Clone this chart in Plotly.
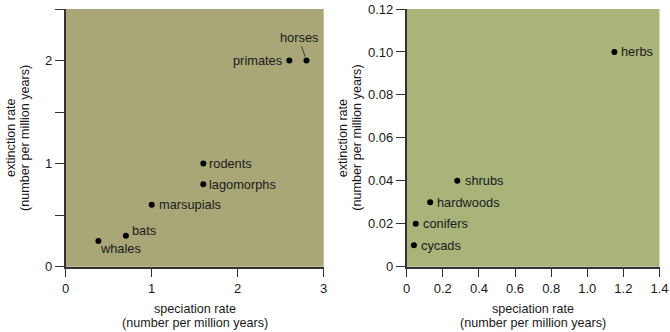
import plotly.graph_objects as go

# Mammal groups: speciation vs extinction rate (per million years)
animal_names = ["whales", "bats", "marsupials", "lagomorphs", "rodents", "primates", "horses"]
animal_spec = [0.38, 0.7, 1.0, 1.6, 1.6, 2.6, 2.8]
animal_ext = [0.25, 0.3, 0.6, 0.8, 1.0, 2.0, 2.0]

# Plant groups
plant_names = ["cycads", "conifers", "hardwoods", "shrubs", "herbs"]
plant_spec = [0.04, 0.05, 0.13, 0.28, 1.15]
plant_ext = [0.01, 0.02, 0.03, 0.04, 0.10]

# Tick definitions
left_xticks = [0, 1, 2, 3]
left_yticks = [0, 0.5, 1, 1.5, 2, 2.5]
left_ylabels = ["0", "", "1", "", "2", ""]
right_xticks = [0, 0.2, 0.4, 0.6, 0.8, 1.0, 1.2, 1.4]
right_xlabels = ["0", "0.2", "0.4", "0.6", "0.8", "1.0", "1.2", "1.4"]
right_yticks = [0, 0.02, 0.04, 0.06, 0.08, 0.10, 0.12]
right_ylabels = ["0", "0.02", "0.04", "0.06", "0.08", "0.10", "0.12"]

W, H = 670, 332
FONT = "Liberation Sans, Arial, Helvetica, sans-serif"
TXT = "#1a1a1a"
AXC = "#333333"

# label placement: (xanchor, xshift, yshift)
animal_label_pos = {
    "whales": ("left", 0, -8),
    "bats": ("left", 4, 5),
    "marsupials": ("left", 5, 0),
    "lagomorphs": ("left", 4, 0),
    "rodents": ("left", 4, 0),
    "primates": ("right", -5, 0),
}
plant_label_pos = {
    "cycads": ("left", 5, 0),
    "conifers": ("left", 5, 0),
    "hardwoods": ("left", 5, 0),
    "shrubs": ("left", 6, 0),
    "herbs": ("left", 5, 0),
}

fig = go.Figure()
fig.add_trace(go.Scatter(x=animal_spec, y=animal_ext, mode="markers",
                         marker=dict(color="black", size=6),
                         xaxis="x", yaxis="y", hoverinfo="skip"))
fig.add_trace(go.Scatter(x=plant_spec, y=plant_ext, mode="markers",
                         marker=dict(color="black", size=6),
                         xaxis="x2", yaxis="y2", hoverinfo="skip"))

label_font = dict(family=FONT, size=12.8, color=TXT)
annotations = []
for n, xv, yv in zip(animal_names, animal_spec, animal_ext):
    if n == "horses":
        annotations.append(dict(x=xv, y=yv, xref="x", yref="y", text=n,
                                showarrow=True, arrowhead=0, arrowwidth=0.8,
                                arrowcolor="#222", ax=-8, ay=-23, standoff=4,
                                font=label_font))
        continue
    xa, xs, ys = animal_label_pos[n]
    annotations.append(dict(x=xv, y=yv, xref="x", yref="y", text=n,
                            showarrow=False, xanchor=xa, yanchor="middle",
                            xshift=xs, yshift=ys, font=label_font))
for n, xv, yv in zip(plant_names, plant_spec, plant_ext):
    xa, xs, ys = plant_label_pos[n]
    annotations.append(dict(x=xv, y=yv, xref="x2", yref="y2", text=n,
                            showarrow=False, xanchor=xa, yanchor="middle",
                            xshift=xs, yshift=ys, font=label_font))

# axis titles (two lines each, set as separate annotations for tight line spacing)
def px(x):
    return x / W

def py(y):
    return 1 - y / H

LEFT_X0, LEFT_X1 = 65.7, 323.7
RIGHT_X0, RIGHT_X1 = 406.7, 659.5

title_font = dict(family=FONT, size=12.6, color=TXT)
for cx in ((LEFT_X0 + LEFT_X1) / 2, (RIGHT_X0 + RIGHT_X1) / 2):
    annotations.append(dict(x=px(cx), y=py(308.5), xref="paper", yref="paper",
                            text="speciation rate", showarrow=False,
                            xanchor="center", yanchor="middle", font=title_font))
    annotations.append(dict(x=px(cx), y=py(322.5), xref="paper", yref="paper",
                            text="(number per million years)", showarrow=False,
                            xanchor="center", yanchor="middle", font=title_font))
for x1, x2 in ((11, 25), (343.3, 356.7)):
    annotations.append(dict(x=px(x1), y=py(138), xref="paper", yref="paper",
                            text="extinction rate", showarrow=False, textangle=-90,
                            xanchor="center", yanchor="middle", font=title_font))
    annotations.append(dict(x=px(x2), y=py(138), xref="paper", yref="paper",
                            text="(number per million years)", showarrow=False,
                            textangle=-90, xanchor="center", yanchor="middle",
                            font=title_font))

shapes = [
    dict(type="rect", xref="x domain", yref="y domain", x0=0, x1=1, y0=0, y1=1,
         fillcolor="#a9a777", line=dict(width=0), layer="below"),
    dict(type="rect", xref="x2 domain", yref="y2 domain", x0=0, x1=1, y0=0, y1=1,
         fillcolor="#a9b47a", line=dict(width=0), layer="below"),
]

axis_common = dict(showgrid=False, zeroline=False, showline=True, linecolor=AXC,
                   linewidth=1.5, ticks="outside", ticklen=9, tickwidth=1,
                   tickcolor=AXC, tickfont=dict(family=FONT, size=13, color=TXT),
                   fixedrange=True, automargin=False, ticklabeloverflow="allow")

ydom = [1 - 266.7 / H, 1 - 9 / H]
fig.update_layout(
    template="none",
    width=W, height=H,
    margin=dict(l=0, r=0, t=0, b=0, pad=0),
    paper_bgcolor="white", plot_bgcolor="white",
    showlegend=False,
    xaxis=dict(domain=[LEFT_X0 / W, LEFT_X1 / W], range=[0, 3], anchor="y",
               tickvals=left_xticks, ticktext=[str(v) for v in left_xticks], **axis_common),
    yaxis=dict(domain=ydom, range=[0, 2.5], anchor="x",
               tickvals=left_yticks, ticktext=left_ylabels, **axis_common),
    xaxis2=dict(domain=[RIGHT_X0 / W, RIGHT_X1 / W], range=[0, 1.4], anchor="y2",
                tickvals=right_xticks, ticktext=right_xlabels, **axis_common),
    yaxis2=dict(domain=ydom, range=[0, 0.12], anchor="x2",
                tickvals=right_yticks, ticktext=right_ylabels, **axis_common),
    annotations=annotations,
    shapes=shapes,
)

fig.write_html("out.html")
